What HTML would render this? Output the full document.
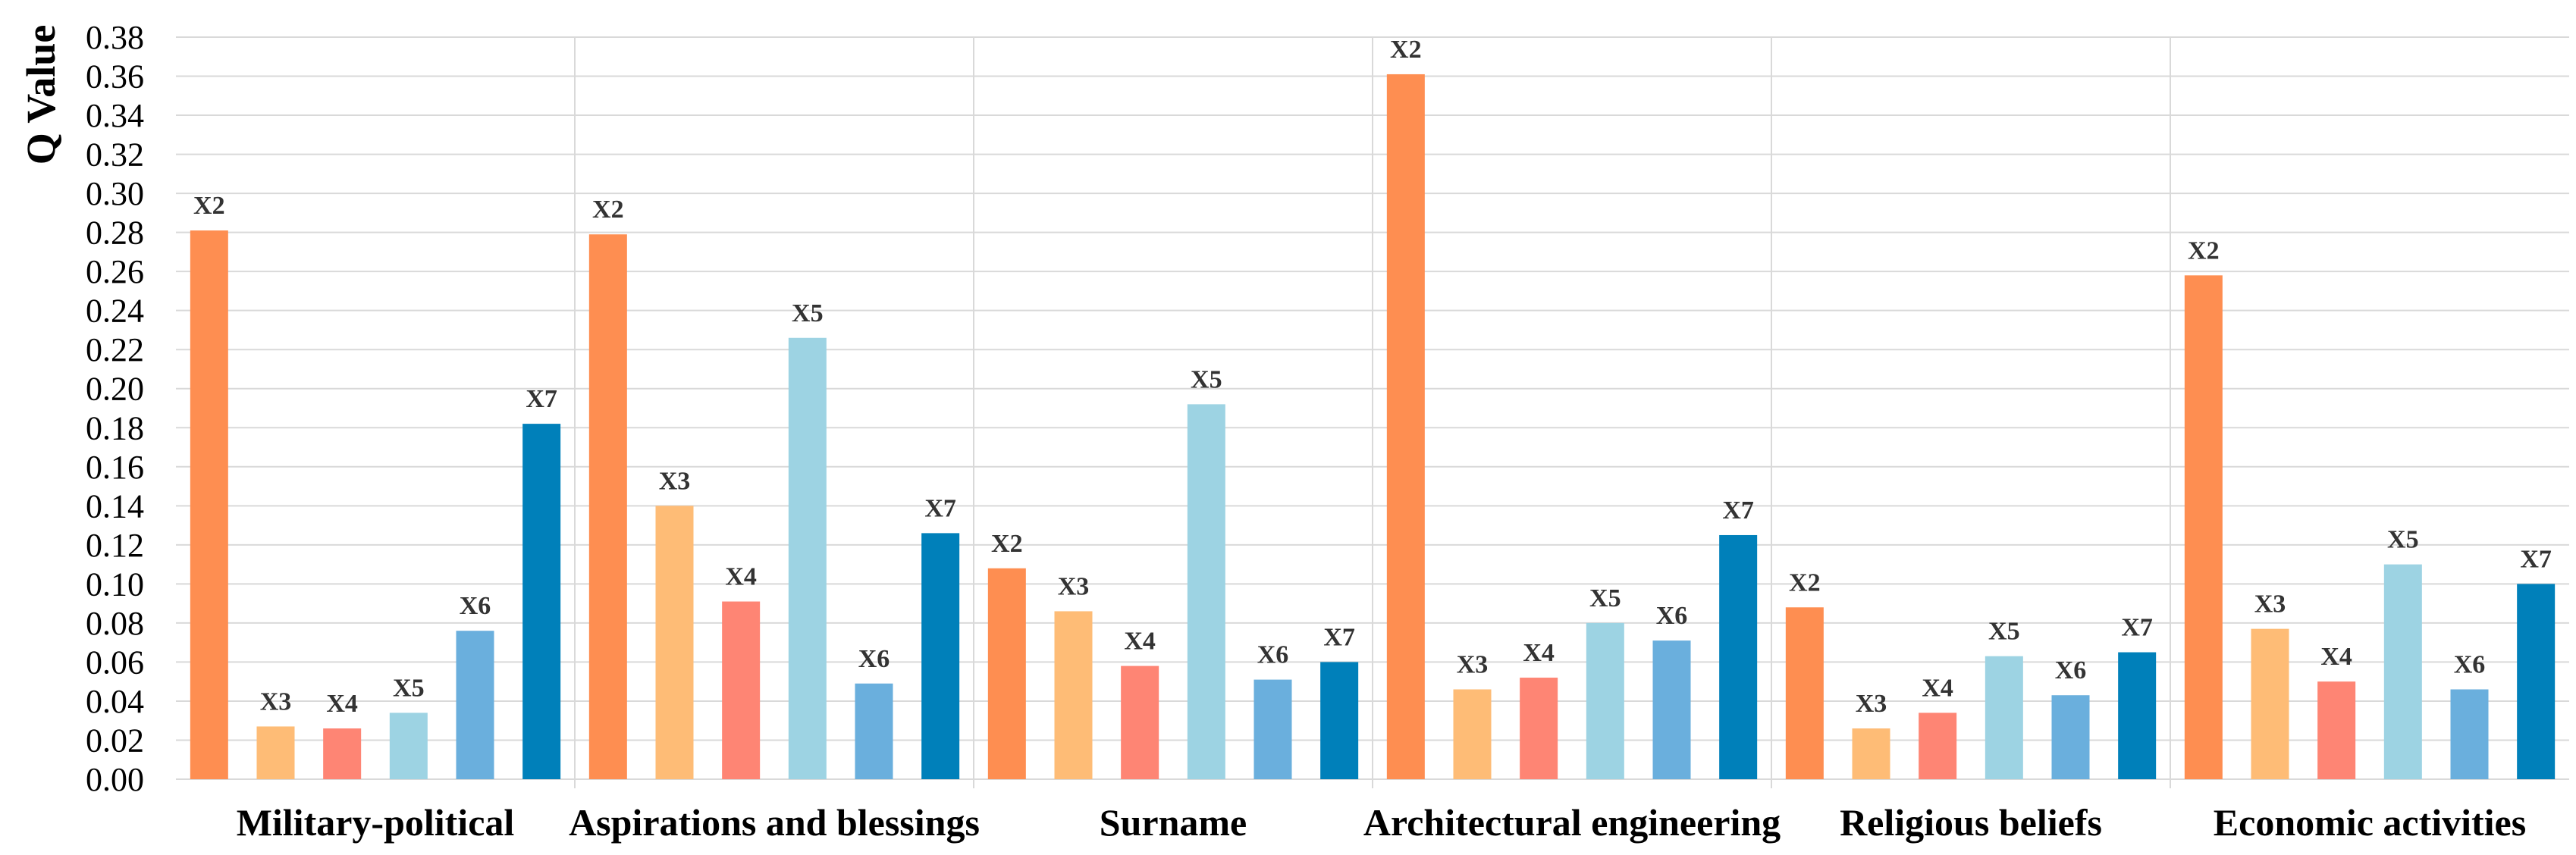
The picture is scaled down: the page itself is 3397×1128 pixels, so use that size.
<!DOCTYPE html>
<html><head><meta charset="utf-8"><style>
html,body{margin:0;padding:0;background:#fff;}
svg{display:block;}
</style></head><body>
<svg id="chart" width="3397" height="1128" xmlns="http://www.w3.org/2000/svg" font-family="Liberation Serif, serif"></svg>
<script>
const categories = ["Military-political","Aspirations and blessings","Surname","Architectural engineering","Religious beliefs","Economic activities"];
const seriesNames = ["X2","X3","X4","X5","X6","X7"];
const seriesColors = ["#FE8E51","#FEBC76","#FE8574","#9DD3E3","#6AAFDD","#0080BA"];
const valuesX2 = [0.281,0.279,0.108,0.361,0.088,0.258];
const valuesX3 = [0.027,0.140,0.086,0.046,0.026,0.077];
const valuesX4 = [0.026,0.091,0.058,0.052,0.034,0.050];
const valuesX5 = [0.034,0.226,0.192,0.080,0.063,0.110];
const valuesX6 = [0.076,0.049,0.051,0.071,0.043,0.046];
const valuesX7 = [0.182,0.126,0.060,0.125,0.065,0.100];
const yTicks = [0,0.02,0.04,0.06,0.08,0.10,0.12,0.14,0.16,0.18,0.20,0.22,0.24,0.26,0.28,0.30,0.32,0.34,0.36,0.38];

const series = [valuesX2,valuesX3,valuesX4,valuesX5,valuesX6,valuesX7];
const svg = document.getElementById('chart');
const NS = 'http://www.w3.org/2000/svg';
const L = 232, R = 3388, T = 49, B = 1028, yMax = 0.38;
const groupW = (R - L) / categories.length;
const step = groupW / seriesNames.length;
const barW = 50;
function y(v){ return B - v / yMax * (B - T); }
function x(g, s){ return L + g * groupW + s * step + (step - barW) / 2; }
function mk(tag, attrs, parent){
  const e = document.createElementNS(NS, tag);
  for (const k in attrs) e.setAttribute(k, attrs[k]);
  (parent || svg).appendChild(e);
  return e;
}
yTicks.forEach(t => {
  const gl = mk('line', {x1:L, x2:R, y1:y(t), y2:y(t), stroke:'#d9d9d9', 'stroke-width':2});
  
  
  const tl = mk('text', {x:190, y:y(t)+15, 'text-anchor':'end', 'font-size':44, fill:'#000'});
  tl.textContent = t.toFixed(2);
  
  
});
for (let g = 1; g < categories.length; g++) {
  const sx = L + g * groupW;
  const sep = mk('line', {x1:sx, x2:sx, y1:T, y2:B+12, stroke:'#d9d9d9', 'stroke-width':2});
  
  
}
categories.forEach((c, g) => {
  series.forEach((vals, s) => {
    const v = vals[g];
    const r = mk('rect', {x:x(g,s), y:y(v), width:barW, height:B - y(v), fill:seriesColors[s]});
    
    
    const lb = mk('text', {x:x(g,s)+barW/2, y:y(v)-22, 'text-anchor':'middle', 'font-size':34, 'font-weight':'bold', fill:'#333'});
    lb.textContent = seriesNames[s];
    
    
  });
  const cl = mk('text', {x:L + g*groupW + groupW/2, y:1102, 'text-anchor':'middle', 'font-size':50, 'font-weight':'bold', fill:'#000'});
  cl.textContent = c;
  
  
});
const yt = mk('text', {x:0, y:0, transform:'translate(72,125) rotate(-90)', 'text-anchor':'middle', 'font-size':54, 'font-weight':'bold', fill:'#000'});
yt.textContent = 'Q Value';


</script>
</body></html>
